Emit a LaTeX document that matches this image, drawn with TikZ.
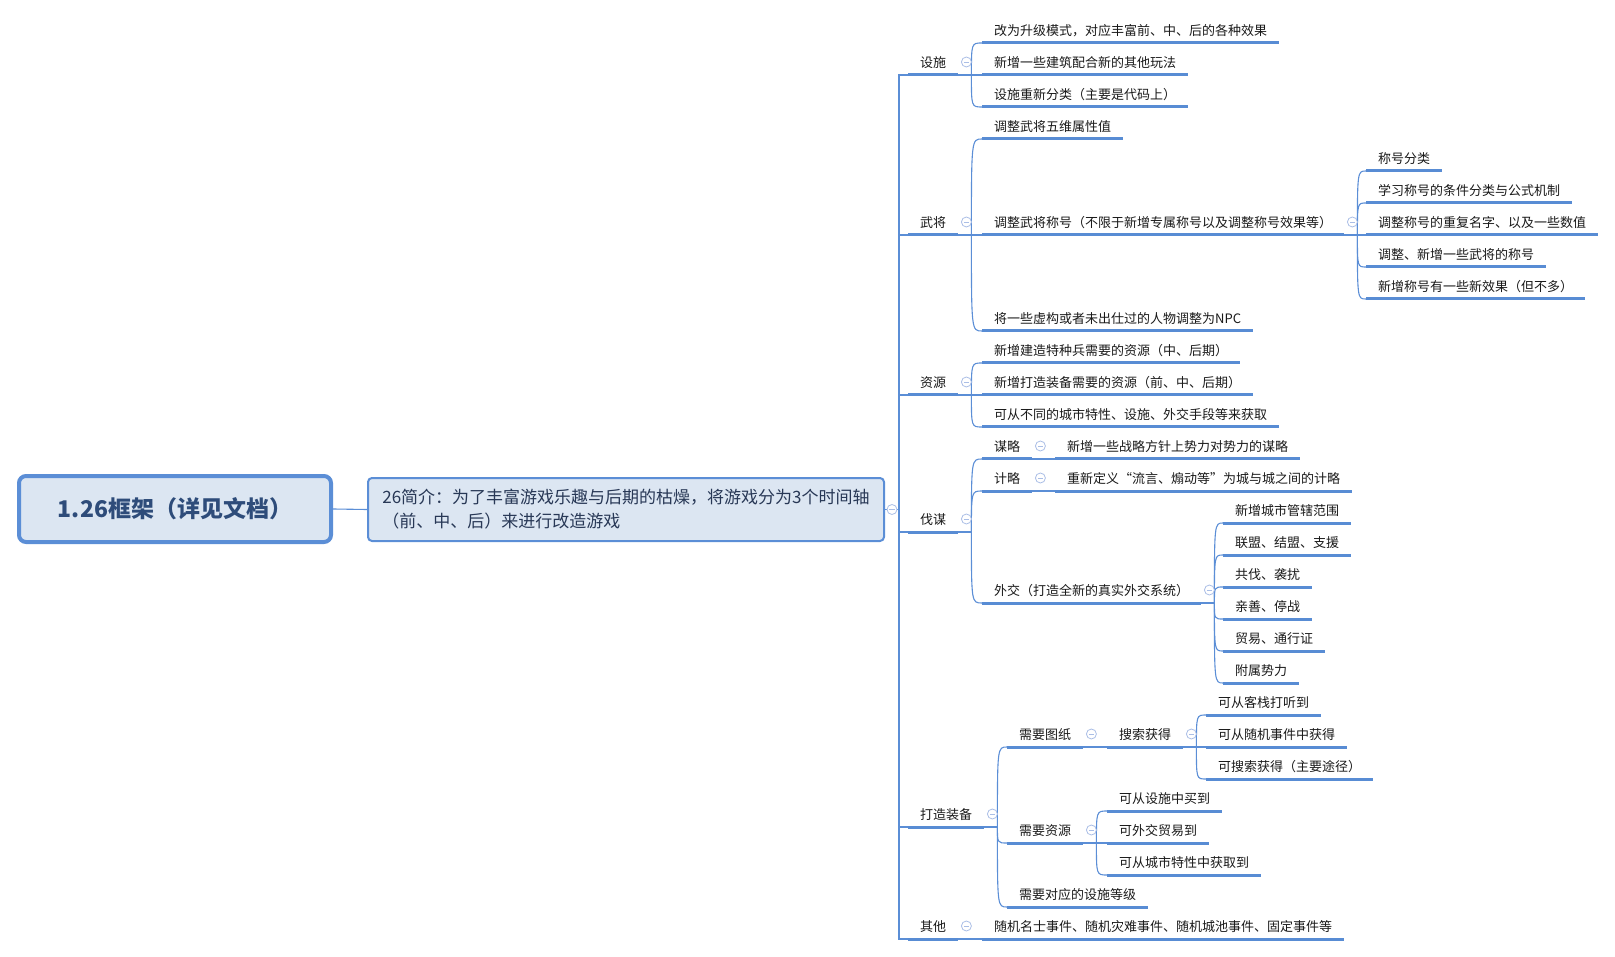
\documentclass[tikz,border=0pt]{standalone}
\usepackage{fontspec}
\newfontfamily\cjk{Noto Sans CJK SC}
\definecolor{linec}{RGB}{91,142,214}
\definecolor{ulc}{RGB}{88,140,212}
\definecolor{foldc}{RGB}{170,190,230}
\definecolor{boxfill}{RGB}{220,230,242}
\definecolor{roottext}{RGB}{46,76,122}
\definecolor{sumtext}{RGB}{40,56,86}
\begin{document}
\begin{tikzpicture}[x=1pt,y=-1pt,
  topic/.style={font=\cjk\fontsize{13}{15}\selectfont, text=black!90, inner xsep=12pt, inner ysep=0pt, text height=10pt, text depth=7pt, anchor=south west},
  ul/.style={draw=ulc, line width=3pt},
  conn/.style={draw=linec, line width=1.1pt},
  fold/.style={circle, draw=foldc, fill=white, line width=0.8pt, minimum size=10pt, inner sep=0pt,
    path picture={\draw[foldc, line width=0.8pt] ([xshift=-2.6pt]path picture bounding box.center) -- ([xshift=2.6pt]path picture bounding box.center);}},
  rootbox/.style={draw=linec, line width=4pt, fill=boxfill, rounded corners=7pt, minimum width=312pt, minimum height=66pt, font=\cjk\bfseries\fontsize{23}{28}\selectfont, text=roottext},
  sumbox/.style={draw=linec, line width=2pt, fill=boxfill, rounded corners=4pt, minimum width=516pt, minimum height=63pt, align=left, font=\cjk\fontsize{17}{24}\selectfont, text=sumtext}
]
\useasboundingbox (0,0) rectangle (1615,957);

% root and summary
\node[rootbox] (root) at (175,509) {1.26框架（详见文档）};
\node[sumbox] (sum) at (626,509.5) {26简介：为了丰富游戏乐趣与后期的枯燥，将游戏分为3个时间轴\\（前、中、后）来进行改造游戏};

% level 1
\node[topic] (s1) at (908,75) {设施};
\node[topic] (s2) at (908,235) {武将};
\node[topic] (s3) at (908,395) {资源};
\node[topic] (s4) at (908,532) {伐谋};
\node[topic] (s5) at (908,827) {打造装备};
\node[topic] (s6) at (908,939) {其他};

% 设施
\node[topic] (a1) at (982,43) {改为升级模式，对应丰富前、中、后的各种效果};
\node[topic] (a2) at (982,75) {新增一些建筑配合新的其他玩法};
\node[topic] (a3) at (982,107) {设施重新分类（主要是代码上）};
% 武将
\node[topic] (b1) at (982,139) {调整武将五维属性值};
\node[topic] (b2) at (982,235) {调整武将称号（不限于新增专属称号以及调整称号效果等）};
\node[topic] (b3) at (982,331) {将一些虚构或者未出仕过的人物调整为NPC};
\node[topic] (c1) at (1366,171) {称号分类};
\node[topic] (c2) at (1366,203) {学习称号的条件分类与公式机制};
\node[topic] (c3) at (1366,235) {调整称号的重复名字、以及一些数值};
\node[topic] (c4) at (1366,267) {调整、新增一些武将的称号};
\node[topic] (c5) at (1366,299) {新增称号有一些新效果（但不多）};
% 资源
\node[topic] (d1) at (982,363) {新增建造特种兵需要的资源（中、后期）};
\node[topic] (d2) at (982,395) {新增打造装备需要的资源（前、中、后期）};
\node[topic] (d3) at (982,427) {可从不同的城市特性、设施、外交手段等来获取};
% 伐谋
\node[topic] (e1) at (982,459) {谋略};
\node[topic] (e2) at (982,491) {计略};
\node[topic] (e3) at (982,603) {外交（打造全新的真实外交系统）};
\node[topic] (e1a) at (1055,459) {新增一些战略方针上势力对势力的谋略};
\node[topic] (e2a) at (1055,491) {重新定义“流言、煽动等”为城与城之间的计略};
\node[topic] (g1) at (1223,523) {新增城市管辖范围};
\node[topic] (g2) at (1223,555) {联盟、结盟、支援};
\node[topic] (g3) at (1223,587) {共伐、袭扰};
\node[topic] (g4) at (1223,619) {亲善、停战};
\node[topic] (g5) at (1223,651) {贸易、通行证};
\node[topic] (g6) at (1223,683) {附属势力};
% 打造装备
\node[topic] (h1) at (1007,747) {需要图纸};
\node[topic] (h2) at (1007,843) {需要资源};
\node[topic] (h3) at (1007,907) {需要对应的设施等级};
\node[topic] (h1a) at (1107,747) {搜索获得};
\node[topic] (k1) at (1206,715) {可从客栈打听到};
\node[topic] (k2) at (1206,747) {可从随机事件中获得};
\node[topic] (k3) at (1206,779) {可搜索获得（主要途径）};
\node[topic] (m1) at (1107,811) {可从设施中买到};
\node[topic] (m2) at (1107,843) {可外交贸易到};
\node[topic] (m3) at (1107,875) {可从城市特性中获取到};
% 其他
\node[topic] (n1) at (982,939) {随机名士事件、随机灾难事件、随机城池事件、固定事件等};

% connectors
\draw[conn] (root.east) -- (sum.west);
\draw[conn] (sum.east) -- ++(14,0) coordinate (tj);
\foreach \t in {s1,s2,s3,s4,s5,s6}
  \draw[conn] (tj) |- (\t.south west);

\foreach \p/\kids in {s1/{a1,a2,a3}, s2/{b1,b2,b3}, b2/{c1,c2,c3,c4,c5}, s3/{d1,d2,d3},
   s4/{e1,e2,e3}, e1/{e1a}, e2/{e2a}, e3/{g1,g2,g3,g4,g5,g6}, s5/{h1,h2,h3}, h1/{h1a},
   h1a/{k1,k2,k3}, h2/{m1,m2,m3}, s6/{n1}}{
  \draw[conn] (\p.south east) -- ++(13,0) coordinate (j-\p);
  \foreach \c in \kids
    \draw[conn] (j-\p) .. controls (j-\p |- \c.south west) .. (\c.south west);
}

% underlines
\foreach \n in {s1,s2,s3,s4,s5,s6,a1,a2,a3,b1,b2,b3,c1,c2,c3,c4,c5,d1,d2,d3,e1,e2,e3,e1a,e2a,
   g1,g2,g3,g4,g5,g6,h1,h2,h3,h1a,k1,k2,k3,m1,m2,m3,n1}
  \draw[ul] (\n.south west) -- (\n.south east);

% fold markers
\node[fold] (f0) at ([xshift=7pt]sum.east) {};
\foreach \p in {s1,s2,s3,s4,s5,s6,b2,e1,e2,e3,h1,h1a,h2}
  \node[fold] (f-\p) at ([shift={(8,-13)}]\p.south east) {};
\end{tikzpicture}
\end{document}
